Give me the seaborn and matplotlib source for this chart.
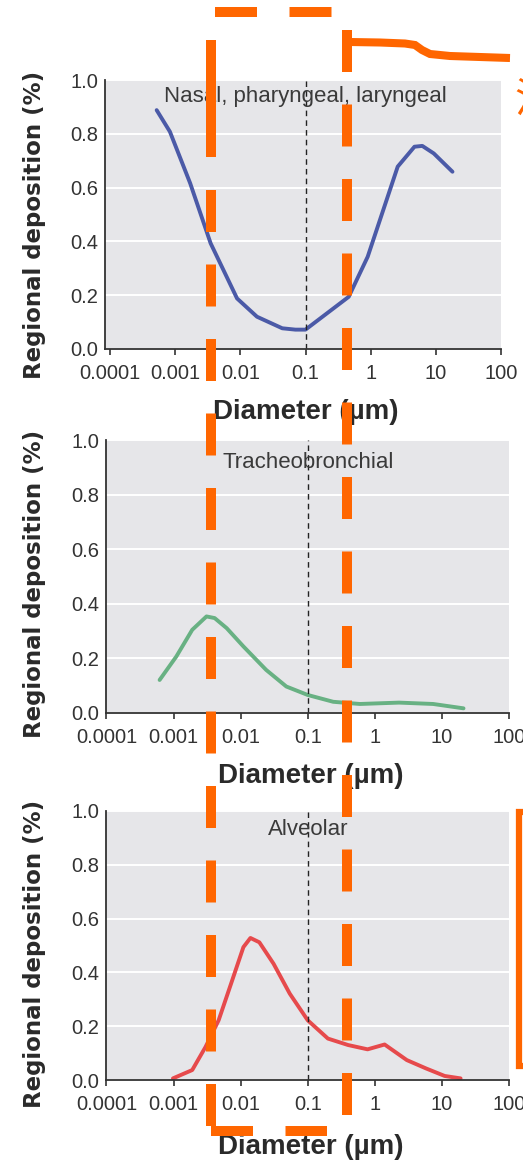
import matplotlib
matplotlib.use('Agg')
import matplotlib.pyplot as plt
from matplotlib.lines import Line2D
import matplotlib.ticker as ticker
import seaborn as sns

# deposition curves (diameter in um, fraction deposited)
nasal_d = [0.00052, 0.00083, 0.0017, 0.0035, 0.0089, 0.018, 0.044, 0.07, 0.1,
           0.46, 0.9, 2.6, 4.7, 6.2, 9.3, 18]
nasal_dep = [0.888, 0.808, 0.616, 0.393, 0.188, 0.12, 0.077, 0.072, 0.072,
             0.194, 0.343, 0.678, 0.752, 0.755, 0.727, 0.659]

tb_d = [0.00062, 0.0011, 0.0019, 0.0031, 0.0041, 0.0062, 0.011, 0.024, 0.048,
        0.1, 0.24, 0.6, 2.3, 7.4, 21]
tb_dep = [0.12, 0.206, 0.304, 0.353, 0.347, 0.31, 0.243, 0.157, 0.096,
          0.065, 0.04, 0.032, 0.037, 0.032, 0.016]

alv_d = [0.00098, 0.0019, 0.003, 0.0047, 0.0072, 0.011, 0.014, 0.019, 0.031,
         0.054, 0.1, 0.2, 0.4, 0.78, 1.4, 3.0, 5.8, 11, 19]
alv_dep = [0.006, 0.037, 0.123, 0.222, 0.358, 0.494, 0.528, 0.512, 0.432,
           0.321, 0.222, 0.154, 0.13, 0.114, 0.132, 0.074, 0.043, 0.015, 0.006]

titles = ['Nasal, pharyngeal, laryngeal', 'Tracheobronchial', 'Alveolar']
colors = ['#4b5aa7', '#68b183', '#e64a4c']
xticks = [0.0001, 0.001, 0.01, 0.1, 1, 10, 100]
xtick_labels = ['0.0001', '0.001', '0.01', '0.1', '1', '10', '100']
yticks = [0.0, 0.2, 0.4, 0.6, 0.8, 1.0]

sns.set_theme(style='darkgrid')
plt.rcParams['font.family'] = ['Liberation Sans', 'DejaVu Sans']

W, H = 523, 1165
fig = plt.figure(figsize=(W / 100, H / 100), dpi=100)
fig.patch.set_facecolor('white')

def px(x, y):
	return x / W, 1 - y / H

# axes boxes in pixels: left, top, right, bottom, x-left-limit
boxes = [(105, 80, 501, 349, 0.0000838),
         (106, 440, 509, 712.7, 0.0000985),
         (106, 811, 509, 1080, 0.0000985)]
title_y = [0.937, 0.916, 0.93]
label_y = [0.46, 0.472, 0.47]
xlabel_y = [-0.235, -0.232, -0.25]
series = [(nasal_d, nasal_dep), (tb_d, tb_dep), (alv_d, alv_dep)]

for i in range(3):
	l, t, r, b, xl = boxes[i]
	ax = fig.add_axes([l / W, 1 - b / H, (r - l) / W, (b - t) / H])
	ax.set_facecolor('#e6e6e9')
	d, v = series[i]
	sns.lineplot(x=d, y=v, ax=ax, color=colors[i], linewidth=2.8)
	ax.set_xscale('log')
	ax.set_xlim(xl, 100)
	ax.set_ylim(0, 1.0)
	ax.set_xticks(xticks)
	ax.set_xticklabels(xtick_labels)
	ax.xaxis.set_minor_locator(ticker.NullLocator())
	ax.set_yticks(yticks)
	ax.set_yticklabels(['%.1f' % y for y in yticks])
	ax.grid(axis='x', visible=False)
	ax.grid(axis='y', color='white', linewidth=1.4)
	for s in ['top', 'right']:
		ax.spines[s].set_visible(False)
	for s in ['left', 'bottom']:
		ax.spines[s].set_visible(True)
		ax.spines[s].set_color('#333333')
		ax.spines[s].set_linewidth(1.3)
	ax.tick_params(axis='x', direction='out', length=4.5, width=1.2, color='#333333',
	               pad=6.5, labelsize=14.5, labelcolor='#333333', bottom=True)
	ax.tick_params(axis='y', length=0, pad=5, labelsize=14.5, labelcolor='#333333')
	ax.axvline(0.1, color='#222222', linewidth=1.0, linestyle=(0, (4, 3)))
	ax.text(0.1, title_y[i], titles[i], ha='center', va='center', fontsize=16,
	        color='#3a3a3a')
	ax.set_ylabel('Regional deposition (%)', fontsize=16.5, fontweight='bold',
	              color='#2a2a2a', family=['DejaVu Sans'])
	ax.yaxis.set_label_coords(-0.177, label_y[i])
	ax.yaxis.label.set_va('center')
	ax.set_xlabel('Diameter (\u00b5m)', fontsize=20, fontweight='bold', color='#2a2a2a')
	ax.xaxis.set_label_coords(0.508, xlabel_y[i])
	ax.xaxis.label.set_va('center')

# orange overlay drawn on top of the figure
orange = '#ff6600'
dash = (0, (4.2, 3.25))
def seg(pts, lw, ls='-'):
	xs = [px(x, y)[0] for x, y in pts]
	ys = [px(x, y)[1] for x, y in pts]
	ln = Line2D(xs, ys, transform=fig.transFigure, color=orange, linewidth=lw,
	            linestyle=ls, solid_capstyle='butt', dash_capstyle='butt',
	            solid_joinstyle='miter', zorder=10)
	fig.add_artist(ln)

seg([(210.5, 40), (210.5, 157)], 7.2)
seg([(210.5, 190), (210.5, 1127)], 7.2, dash)
seg([(346.7, 30), (346.7, 1117)], 7.2, dash)
seg([(215, 12), (332, 12)], 7.2, dash)
seg([(211, 1131), (327, 1131)], 7.2, dash)
seg([(350, 42), (380, 42.5), (405, 43.5), (415, 45), (422, 50), (430, 54),
     (450, 56), (480, 57), (510, 58)], 5.8)
seg([(527, 812), (518.5, 812), (518.5, 1066), (527, 1066)], 4.5)
fig.text(514 / W, 1 - 100 / H, '沉', color=orange, fontsize=30, ha='left', va='center',
         family=['Noto Sans CJK SC', 'DejaVu Sans'])

fig.savefig('out.png', dpi=100)
